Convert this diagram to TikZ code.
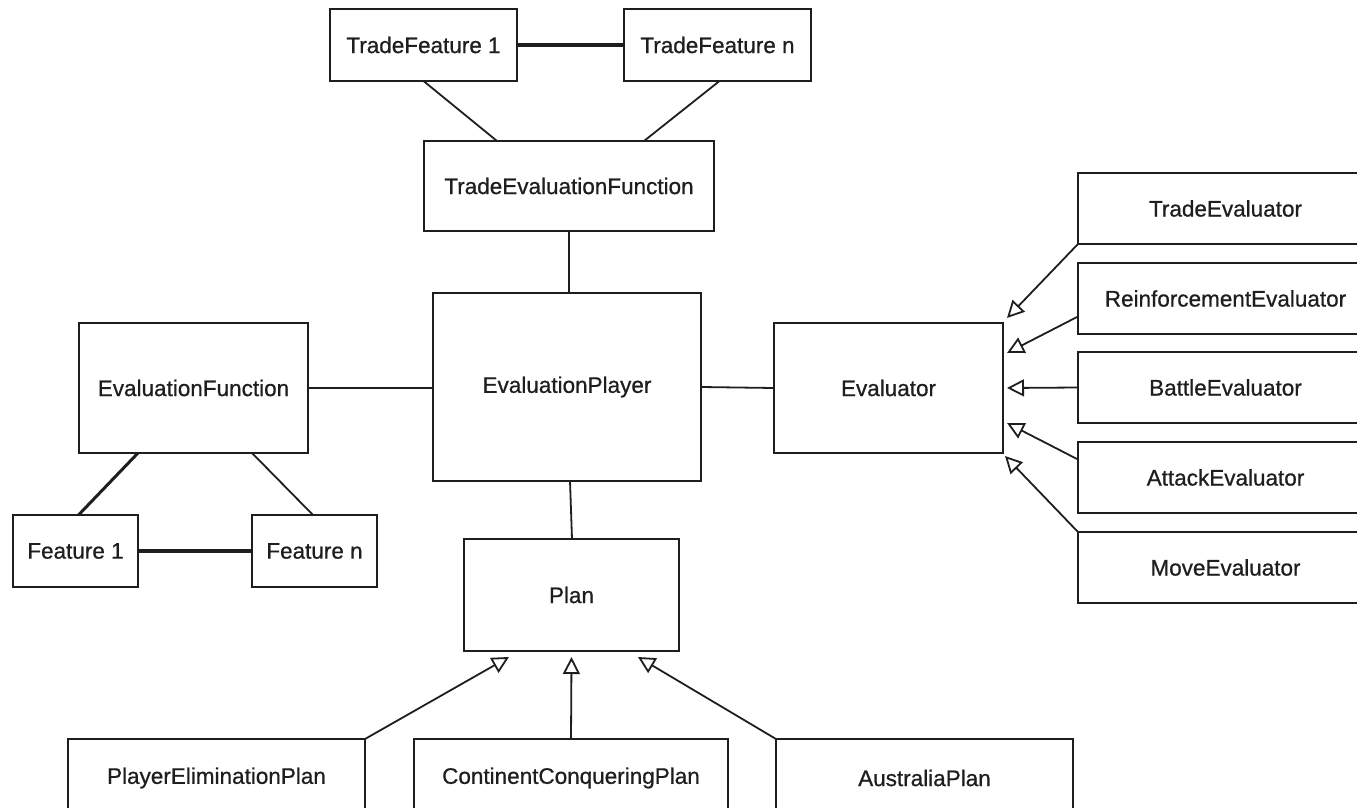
\documentclass[tikz,border=0pt]{standalone}
\usepackage{fontspec}
\setmainfont{Liberation Sans}[FakeBold=0.7]
\usetikzlibrary{arrows.meta,calc}
\definecolor{ink}{HTML}{1E1E1E}
\begin{document}
\begin{tikzpicture}[x=1pt,y=-1pt,
  box/.style={draw=ink, line width=1.8pt, rectangle, outer sep=0pt, inner sep=0pt,
    font=\fontsize{22.5}{27}\selectfont, text=ink},
  link/.style={draw=ink, line width=1.8pt},
  heavy/.style={draw=ink, line width=4pt},
  inherit/.style={draw=ink, line width=1.8pt, -{Triangle[open,length=17pt,width=17pt,line width=1.8pt]}}
]
\useasboundingbox (0,0) rectangle (1357,808);
\clip (0,0) rectangle (1357,808);

% top
\node[box, minimum width=187pt, minimum height=72pt] (tf1) at (423.5,45) {TradeFeature 1};
\node[box, minimum width=187pt, minimum height=72pt] (tfn) at (717.5,45) {TradeFeature n};
\node[box, minimum width=290pt, minimum height=90pt] (tef) at (569,186) {TradeEvaluationFunction};

% centre
\node[box, minimum width=268pt, minimum height=188pt] (ep) at (567,387) {EvaluationPlayer};
\node[box, minimum width=229pt, minimum height=130pt] (ef) at (193.5,388) {EvaluationFunction};
\node[box, minimum width=125pt, minimum height=72pt] (f1) at (75.5,551) {Feature 1};
\node[box, minimum width=125pt, minimum height=72pt] (fn) at (314.5,551) {Feature n};
\node[box, minimum width=229pt, minimum height=130pt] (ev) at (888.5,388) {Evaluator};
\node[box, minimum width=215pt, minimum height=112pt] (plan) at (571.5,595) {Plan};

% evaluators
\node[box, minimum width=295pt, minimum height=71pt] (te) at (1225.5,208.5) {TradeEvaluator};
\node[box, minimum width=295pt, minimum height=71pt] (re) at (1225.5,298.5) {ReinforcementEvaluator};
\node[box, minimum width=295pt, minimum height=71pt] (be) at (1225.5,387.5) {BattleEvaluator};
\node[box, minimum width=295pt, minimum height=71pt] (ae) at (1225.5,477.5) {AttackEvaluator};
\node[box, minimum width=295pt, minimum height=71pt] (me) at (1225.5,567.5) {MoveEvaluator};

% plans
\node[box, minimum width=297pt, minimum height=78pt] (pep) at (216.5,778) {PlayerEliminationPlan};
\node[box, minimum width=314pt, minimum height=78pt] (ccp) at (571,778) {ContinentConqueringPlan};
\node[box, minimum width=297pt, minimum height=78pt] (ap) at (924.5,778) {AustraliaPlan};

% plain associations
\draw[heavy] (tf1.east) -- (tfn.west);
\draw[link] (tf1.south) -- ($(tef.north)+(-72,0)$);
\draw[link] ($(tfn.south)+(2,0)$) -- ($(tef.north)+(75,0)$);
\draw[link] (tef.south) -- (tef.south |- ep.north);
\draw[link] (ef.east) -- (ef.east -| ep.west);
\draw[link] (ep.east) -- (ev.west);
\draw[link] ($(ep.south)+(3,0)$) -- ($(plan.north)+(0.5,0)$);
\draw[link, line width=3pt] ($(ef.south west)+(59,0)$) -- ($(f1.north)+(3,0)$);
\draw[link] ($(ef.south east)+(-56,0)$) -- ($(fn.north)+(-1.5,0)$);
\draw[heavy] (f1.east) -- (fn.west);

% inheritance to Evaluator
\coordinate (t1) at ($(ev.north east)+(4,-5)$);
\coordinate (t2) at ($(ev.north east)+(4,30)$);
\coordinate (t3) at ($(ev.east)+(4,0)$);
\coordinate (t4) at ($(ev.south east)+(4,-30)$);
\coordinate (t5) at ($(ev.south east)+(2,3)$);
\draw[inherit] (te.south west) -- (t1);
\draw[inherit] ($(re.west)+(0,18)$) -- (t2);
\draw[inherit] (be.west) -- (t3);
\draw[inherit] ($(ae.west)+(0,-18)$) -- (t4);
\draw[inherit] (me.north west) -- (t5);

% inheritance to Plan
\coordinate (p1) at ($(plan.south west)+(45,6)$);
\coordinate (p2) at ($(plan.south)+(0,6)$);
\coordinate (p3) at ($(plan.south east)+(-41,6)$);
\draw[inherit] (pep.north east) -- (p1);
\draw[inherit] (ccp.north) -- (p2);
\draw[inherit] (ap.north west) -- (p3);
\end{tikzpicture}
\end{document}
